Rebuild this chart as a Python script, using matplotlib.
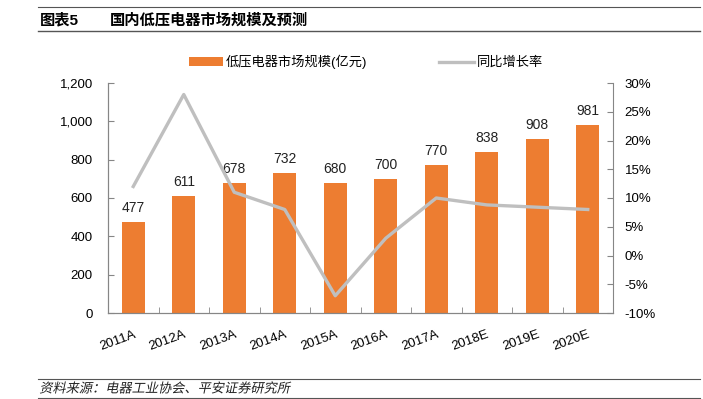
import numpy as np
import matplotlib.pyplot as plt
from matplotlib.lines import Line2D
from matplotlib.ticker import FuncFormatter, FixedLocator
from matplotlib.patheffects import AbstractPathEffect
from matplotlib.transforms import Affine2D

plt.rcParams['font.family'] = ['Liberation Sans', 'Noto Sans CJK SC']
plt.rcParams['axes.unicode_minus'] = False

years = ["2011A", "2012A", "2013A", "2014A", "2015A", "2016A", "2017A", "2018E", "2019E", "2020E"]
market = [477, 611, 678, 732, 680, 700, 770, 838, 908, 981]
growth = [12.0, 28.0, 11.0, 8.0, -7.0, 3.0, 10.0, 8.8, 8.4, 8.0]

bar_color = "#ED7D31"
line_color = "#BFBFBF"
axis_color = "#868686"


class Oblique(AbstractPathEffect):
    """fake italic for CJK text: skew glyphs around the text baseline"""
    def __init__(self, y0, angle=12):
        super().__init__()
        self.y0 = y0
        self.angle = angle

    def draw_path(self, renderer, gc, tpath, affine, rgbFace=None):
        sk = Affine2D().translate(0, -self.y0).skew_deg(self.angle, 0).translate(0, self.y0)
        renderer.draw_path(gc, tpath, affine + sk, rgbFace)


fig = plt.figure(figsize=(7.03, 3.99), dpi=100)
ax = fig.add_axes([108/703, 1-313/399, (613-108)/703, (313-83)/399])
ax2 = ax.twinx()

x = np.arange(len(years))
bars = ax.bar(x, market, width=0.46, color=bar_color, label="低压电器市场规模(亿元)", zorder=2)
for xi, v in zip(x, market):
    ax.annotate(str(v), (xi, v), xytext=(0, 5), textcoords="offset points",
                ha="center", va="bottom", fontsize=10, color="#222222")

ln, = ax2.plot(x, growth, color=line_color, lw=2.4, label="同比增长率", zorder=3)

ax.set_xlim(-0.5, len(years) - 0.5)
ax.set_ylim(0, 1200)
ax.set_yticks(range(0, 1201, 200))
ax.yaxis.set_major_formatter(FuncFormatter(lambda v, p: f"{int(v):,}"))
ax2.set_ylim(-10, 30)
ax2.set_yticks(range(-10, 31, 5))
ax2.yaxis.set_major_formatter(FuncFormatter(lambda v, p: f"{int(v)}%"))

ax.set_xticks(x)
ax.set_xticklabels(years, rotation=20, ha="right", rotation_mode="anchor")
ax.xaxis.set_minor_locator(FixedLocator(np.arange(0.5, len(years) - 0.5, 1)))
ax.tick_params(axis="x", which="major", length=0, pad=11, labelsize=9.5)
ax.tick_params(axis="x", which="minor", length=4, direction="in", color=axis_color)
ax.tick_params(axis="y", length=4, direction="in", color=axis_color, labelsize=9.5, pad=11)
ax2.tick_params(axis="y", length=4, direction="in", color=axis_color, labelsize=9.5, pad=8.5)

for a in (ax, ax2):
    a.spines["top"].set_visible(False)
    for s in ("left", "right", "bottom"):
        a.spines[s].set_color(axis_color)
ax.spines["right"].set_visible(False)

fig.legend(handles=[bars, ln], loc="center", bbox_to_anchor=(0.520, 1-62/399), ncol=2,
           frameon=False, fontsize=9.5, handlelength=2.6, handleheight=0.7,
           handletextpad=0.2, columnspacing=5.5)

# title band
fig.add_artist(Line2D([38/703, 700/703], [1-7/399, 1-7/399], color="#555555", lw=0.8))
fig.add_artist(Line2D([38/703, 700/703], [1-31/399, 1-31/399], color="#555555", lw=1.0))
fig.text(40/703, 1-20/399, "图表5", fontsize=11, fontweight="bold", va="center")
fig.text(110/703, 1-20/399, "国内低压电器市场规模及预测", fontsize=11, fontweight="bold", va="center")

# source band
fig.add_artist(Line2D([38/703, 700/703], [1-379/399, 1-379/399], color="#555555", lw=0.8))
fig.add_artist(Line2D([38/703, 700/703], [1-398/399, 1-398/399], color="#555555", lw=0.8))
src_y = 1 - 389/399
fig.text(40/703, src_y, "资料来源：电器工业协会、平安证券研究所", fontsize=9.5,
         va="center", color="#222222",
         path_effects=[Oblique(src_y * fig.bbox.height, 12)])

fig.savefig("out.png", dpi=100)
